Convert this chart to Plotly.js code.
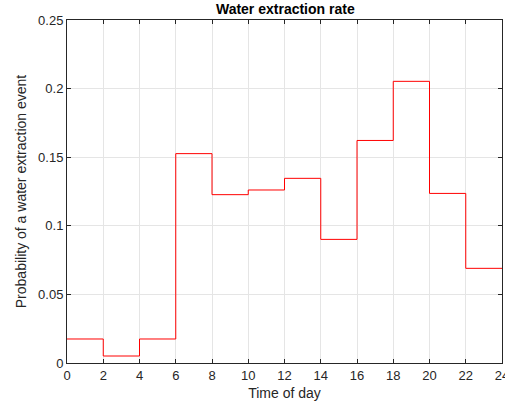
<!DOCTYPE html>
<html>
<head>
<meta charset="utf-8">
<script src="https://cdn.plot.ly/plotly-3.0.1.min.js"></script>
<style>html,body{margin:0;padding:0;background:#fff;}#chart{width:505px;height:408px;}</style>
</head>
<body>
<div id="chart"></div>
<script>
const binEdges = [0, 2, 4, 6, 8, 10, 12, 14, 16, 18, 20, 22, 24];
const probs = [0.0175, 0.0051, 0.0175, 0.1526, 0.1227, 0.1261, 0.1346, 0.0901, 0.1622, 0.2053, 0.1236, 0.0690];
const xTicks = [0, 2, 4, 6, 8, 10, 12, 14, 16, 18, 20, 22, 24];
const yTicks = [0, 0.05, 0.1, 0.15, 0.2, 0.25];
const yTickLabels = ['0', '0.05', '0.1', '0.15', '0.2', '0.25'];

const stepY = probs.concat([probs[probs.length - 1]]);

const font = 'Liberation Sans, Arial, Helvetica, sans-serif';
const trace = {
  x: binEdges,
  y: stepY,
  type: 'scatter',
  mode: 'lines',
  line: {shape: 'hv', color: '#ff0000', width: 1},
  hoverinfo: 'skip'
};
const axisCommon = {
  showline: true, mirror: 'ticks', linecolor: '#262626', linewidth: 1,
  ticks: 'inside', ticklen: 4, tickcolor: '#262626', tickwidth: 1,
  showgrid: true, gridcolor: '#e5e5e5', gridwidth: 1,
  zeroline: false, ticklabeloverflow: 'allow',
  tickfont: {family: font, size: 13, color: '#262626'}
};
const layout = {
  width: 505, height: 408,
  margin: {l: 67, r: 3, t: 20, b: 45},
  paper_bgcolor: '#fff', plot_bgcolor: '#fff',
  showlegend: false,
  title: {text: '<b>Water extraction rate</b>', font: {family: font, size: 14, color: '#000'}, x: 0.565, xanchor: 'center', y: 0.977, yanchor: 'middle'},
  xaxis: Object.assign({}, axisCommon, {
    range: [0, 24], tickvals: xTicks, ticktext: xTicks.map(String),
    title: {text: 'Time of day', font: {family: font, size: 14, color: '#262626'}, standoff: 6}
  }),
  yaxis: Object.assign({}, axisCommon, {
    range: [0, 0.25], tickvals: yTicks, ticktext: yTickLabels,
    title: {text: 'Probability of a water extraction event', font: {family: font, size: 14, color: '#262626'}, standoff: 8}
  })
};
Plotly.newPlot('chart', [trace], layout, {staticPlot: true, displayModeBar: false});
</script>
</body>
</html>
